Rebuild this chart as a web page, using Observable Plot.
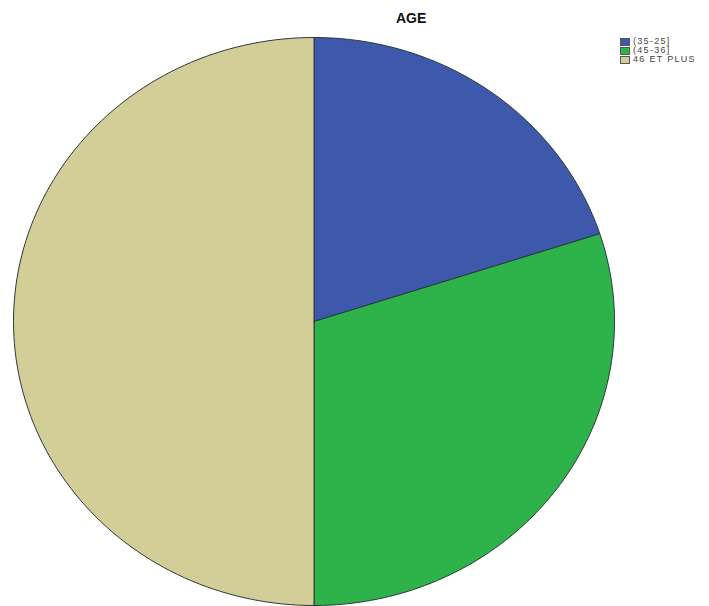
<!DOCTYPE html>
<html>
<head>
<meta charset="utf-8">
<script src="https://cdn.jsdelivr.net/npm/d3@7"></script>
<script src="https://cdn.jsdelivr.net/npm/@observablehq/plot@0.6"></script>
<style>
  body { margin: 0; background: #fff; }
  #wrap { position: relative; width: 709px; height: 606px; overflow: hidden; font-family: "Liberation Sans", Arial, sans-serif; }
  #chart { position: absolute; left: 0; top: 0; }
  #title { position: absolute; left: 396px; top: 10px; font-size: 14px; font-weight: bold; color: #111; }
  #legend { position: absolute; left: 620px; top: 37px; font-size: 9px; letter-spacing: 1.3px; color: #444; line-height: 9px; }
  .item { display: flex; align-items: center; height: 9px; white-space: nowrap; }
  .sw { width: 10px; height: 8px; border: 1px solid #555; box-sizing: border-box; margin-right: 3px; flex: none; }
</style>
</head>
<body>
<div id="wrap">
  <div id="chart"></div>
  <div id="title">AGE</div>
  <div id="legend"></div>
</div>
<script>
const categories = ["(35-25]", "(45-36]", "46 ET PLUS"];
const values = [20, 30, 50];
const colors = ["#3e58ac", "#2db34a", "#d3ce97"];

const pie = d3.pie().sort(null).value(d => d.value)(categories.map((c, i) => ({ cat: c, value: values[i] })));
const pts = [];
pie.forEach(s => {
  const cat = s.data.cat;
  pts.push({ cat, x: 0, y: 0 });
  const n = 120;
  for (let k = 0; k <= n; k++) {
    const a = s.startAngle + (s.endAngle - s.startAngle) * k / n;
    pts.push({ cat, x: Math.sin(a), y: Math.cos(a) });
  }
  pts.push({ cat, x: 0, y: 0 });
});

const plot = Plot.plot({
  width: 709,
  height: 606,
  margin: 0,
  x: { domain: [-1, 1], range: [13, 614], axis: null },
  y: { domain: [-1, 1], range: [605, 37], axis: null },
  color: { domain: categories, range: colors },
  marks: [
    Plot.line(pts, { x: "x", y: "y", z: "cat", fill: "cat", stroke: "#2a3a3a", strokeWidth: 1, curve: "linear" })
  ]
});
document.getElementById("chart").appendChild(plot);

const leg = document.getElementById("legend");
categories.forEach((c, i) => {
  const it = document.createElement("div");
  it.className = "item";
  it.innerHTML = `<span class="sw" style="background:${colors[i]}"></span><span>${c}</span>`;
  leg.appendChild(it);
});
</script>
</body>
</html>
